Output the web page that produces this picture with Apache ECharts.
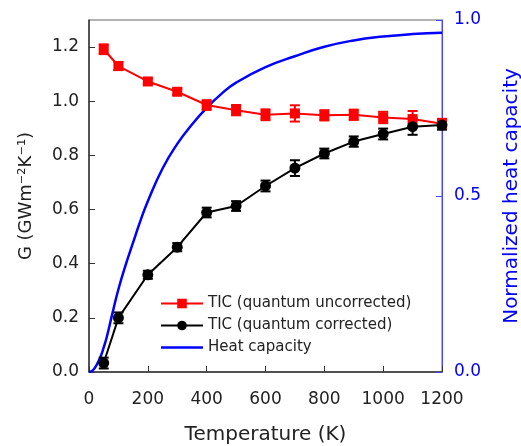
<!DOCTYPE html>
<html>
<head>
<meta charset="utf-8">
<script src="https://cdn.jsdelivr.net/npm/echarts@6/dist/echarts.min.js"></script>
<style>
  html, body { margin: 0; padding: 0; background: #fff; }
  #chart { width: 521px; height: 446px; }
</style>
</head>
<body>
<div id="chart"></div>
<script>
// Temperatures (K) at which thermal interface conductance was computed
var temps = [50, 100, 200, 300, 400, 500, 600, 700, 800, 900, 1000, 1100, 1200];

// TIC without quantum correction, GW m^-2 K^-1, with error half-widths
var ticUncorrected = [1.192, 1.130, 1.073, 1.035, 0.986, 0.967, 0.950, 0.955, 0.948, 0.950, 0.940, 0.934, 0.917];
var errUncorrected = [0.018, 0.015, 0.011, 0.012, 0.018, 0.019, 0.020, 0.030, 0.019, 0.019, 0.021, 0.030, 0.018];

// TIC with quantum correction
var ticCorrected = [0.033, 0.200, 0.359, 0.461, 0.589, 0.613, 0.687, 0.753, 0.807, 0.851, 0.879, 0.906, 0.912];
var errCorrected = [0.020, 0.020, 0.015, 0.015, 0.018, 0.018, 0.020, 0.029, 0.018, 0.019, 0.020, 0.030, 0.017];

// Normalized heat capacity curve (right axis)
var hcTemps = [0, 10, 20, 30, 40, 50, 60, 80, 100, 125, 150, 175, 200, 250, 300, 350, 400, 450, 500, 600, 700, 800, 900, 1000, 1100, 1200];
var hcValues = [0, 0.003, 0.012, 0.027, 0.045, 0.070, 0.098, 0.168, 0.235, 0.305, 0.368, 0.430, 0.485, 0.578, 0.648, 0.703, 0.750, 0.790, 0.822, 0.866, 0.897, 0.924, 0.942, 0.953, 0.960, 0.964];

// Axis ticks
var xTicks = [0, 200, 400, 600, 800, 1000, 1200];
var leftTicks = [0, 0.2, 0.4, 0.6, 0.8, 1.0, 1.2];
var rightTicks = [0, 0.5, 1.0];

var legendNames = ['TIC (quantum uncorrected)', 'TIC (quantum corrected)', 'Heat capacity'];

function zip(xs, ys) {
  return xs.map(function (x, i) { return [x, ys[i]]; });
}
function errData(xs, ys, es) {
  return xs.map(function (x, i) { return [x, ys[i] - es[i], ys[i] + es[i]]; });
}
function errorBarRenderer(color) {
  return function (params, api) {
    var lo = api.coord([api.value(0), api.value(1)]);
    var hi = api.coord([api.value(0), api.value(2)]);
    var half = 5;
    var style = { stroke: color, lineWidth: 2 };
    return {
      type: 'group',
      children: [
        { type: 'line', shape: { x1: lo[0], y1: lo[1], x2: hi[0], y2: hi[1] }, style: style },
        { type: 'line', shape: { x1: lo[0] - half, y1: lo[1], x2: lo[0] + half, y2: lo[1] }, style: style },
        { type: 'line', shape: { x1: hi[0] - half, y1: hi[1], x2: hi[0] + half, y2: hi[1] }, style: style }
      ]
    };
  };
}

var font = 'DejaVu Sans';
var chart = echarts.init(document.getElementById('chart'));

chart.setOption({
  animation: false,
  backgroundColor: '#fff',
  textStyle: { fontFamily: font },
  grid: {
    left: 89, right: 79, top: 20, bottom: 74,
    outerBoundsMode: 'none', containLabel: false,
    show: true, borderColor: '#666', borderWidth: 1, backgroundColor: 'transparent'
  },
  legend: {
    data: [
      { name: legendNames[0] },
      { name: legendNames[1] },
      { name: legendNames[2], icon: 'path://M0,0H100V6H0Z' }
    ],
    orient: 'vertical',
    left: 155, top: 291,
    itemWidth: 42, itemHeight: 12, itemGap: 7,
    textStyle: { fontFamily: font, fontSize: 15, color: '#222' },
    inactiveColor: '#ccc'
  },
  xAxis: {
    type: 'value', min: 0, max: 1200, interval: 200,
    name: 'Temperature (K)', nameLocation: 'middle', nameGap: 53,
    nameTextStyle: { fontFamily: font, fontSize: 20, color: '#222' },
    axisLine: { show: true, lineStyle: { color: '#333', width: 1.5 } },
    axisTick: { show: true, inside: true, length: 6, lineStyle: { color: '#333' }, customValues: xTicks },
    axisLabel: {
      fontFamily: font, fontSize: 17, color: '#222', margin: 19, customValues: xTicks,
      formatter: function (v) { return String(v); }
    },
    splitLine: { show: false }
  },
  yAxis: [
    {
      type: 'value', min: 0, max: 1.3, position: 'left',
      name: 'G (GWm\u207B\u00B2K\u207B\u00B9)', nameLocation: 'middle', nameGap: 54,
      nameTextStyle: { fontFamily: font, fontSize: 18, color: '#222' },
      axisLine: { show: true, lineStyle: { color: '#333', width: 1.5 } },
      axisTick: { show: true, inside: true, length: 6, lineStyle: { color: '#333' }, customValues: leftTicks },
      axisLabel: {
        fontFamily: font, fontSize: 17, color: '#222', margin: 10, customValues: leftTicks,
        formatter: function (v) { return v.toFixed(1); }
      },
      splitLine: { show: false }
    },
    {
      type: 'value', min: 0, max: 1, position: 'right',
      name: 'Normalized heat capacity', nameLocation: 'middle', nameGap: 60,
      nameTextStyle: { fontFamily: font, fontSize: 20, color: '#0000ff' },
      axisLine: { show: true, lineStyle: { color: '#4444ff', width: 1 } },
      axisTick: { show: true, inside: true, length: 6, lineStyle: { color: '#4444ff' }, customValues: rightTicks },
      axisLabel: {
        fontFamily: font, fontSize: 17, color: '#0000ff', margin: 12, customValues: rightTicks,
        formatter: function (v) { return v.toFixed(1); }
      },
      splitLine: { show: false }
    }
  ],
  series: [
    {
      name: legendNames[2], type: 'line', yAxisIndex: 1,
      data: zip(hcTemps, hcValues), smooth: 0.5, showSymbol: false, symbol: 'none',
      lineStyle: { color: '#0000ff', width: 2.5 }, itemStyle: { color: '#0000ff' }, z: 2
    },
    {
      type: 'custom', yAxisIndex: 0, silent: true,
      renderItem: errorBarRenderer('#ff0000'),
      data: errData(temps, ticUncorrected, errUncorrected),
      encode: { x: 0, y: [1, 2] }, z: 3
    },
    {
      name: legendNames[0], type: 'line', yAxisIndex: 0,
      data: zip(temps, ticUncorrected),
      symbol: 'rect', symbolSize: 10,
      lineStyle: { color: '#ff0000', width: 2 }, itemStyle: { color: '#ff0000' }, z: 4
    },
    {
      type: 'custom', yAxisIndex: 0, silent: true,
      renderItem: errorBarRenderer('#000000'),
      data: errData(temps, ticCorrected, errCorrected),
      encode: { x: 0, y: [1, 2] }, z: 3
    },
    {
      name: legendNames[1], type: 'line', yAxisIndex: 0,
      data: zip(temps, ticCorrected),
      symbol: 'circle', symbolSize: 11,
      lineStyle: { color: '#000000', width: 2 }, itemStyle: { color: '#000000' }, z: 4
    }
  ]
});
</script>
</body>
</html>
